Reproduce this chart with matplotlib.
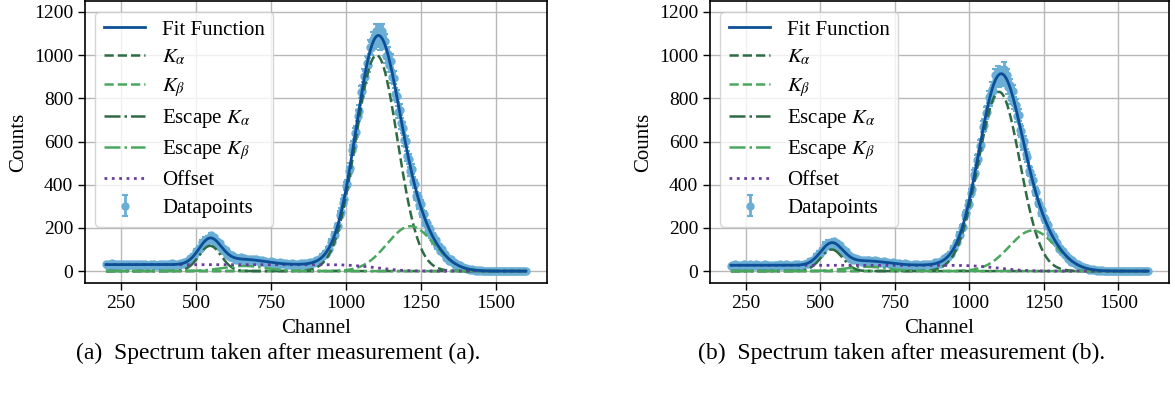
import numpy as np
import matplotlib.pyplot as plt
from math import erfc

plt.rcParams['font.family'] = ['Liberation Serif', 'DejaVu Serif']
plt.rcParams['mathtext.fontset'] = 'stix'

# channels of the datapoints (every 5th channel)
channel = np.arange(200, 1601, 5)

counts_a = [
    # 200-425
    34, 27, 32, 25, 36, 29, 33, 25, 31, 26, 35, 28, 33, 26, 31, 24, 34, 28, 32, 27,
    33, 28, 31, 24, 35, 30, 32, 26, 30, 27, 34, 29, 32, 25, 30, 25, 35, 29, 31, 26,
    34, 27, 32, 25, 36, 29,
    # 430-1495
    34, 26, 33, 29, 39, 33, 42, 35, 45, 41,
    59, 57, 70, 71, 91, 88, 106, 104, 134, 129,
    146, 134, 152, 145, 165, 147, 156, 134, 139, 117,
    129, 109, 108, 91, 96, 76, 79, 64, 75, 62,
    65, 52, 59, 52, 63, 53, 60, 49, 56, 46,
    58, 50, 55, 48, 56, 45, 51, 41, 53, 44,
    48, 37, 43, 37, 46, 37, 42, 33, 38, 30,
    40, 33, 37, 31, 38, 29, 34, 27, 37, 30,
    34, 26, 32, 28, 37, 30, 36, 29, 36, 29,
    41, 36, 43, 39, 51, 45, 55, 51, 72, 69,
    83, 79, 100, 104, 135, 136, 166, 167, 202, 207,
    261, 274, 317, 334, 394, 404, 462, 477, 562, 578,
    639, 646, 720, 742, 830, 835, 904, 899, 965, 955,
    1040, 1031, 1073, 1059, 1112, 1071, 1101, 1058, 1111, 1059,
    1065, 995, 1006, 953, 972, 900, 895, 819, 811, 737,
    748, 684, 665, 605, 601, 533, 521, 462, 472, 417,
    403, 348, 344, 305, 311, 268, 264, 224, 221, 187,
    196, 168, 163, 139, 142, 115, 114, 92, 101, 82,
    79, 59, 62, 49, 55, 40, 42, 29, 31, 20,
    26, 18, 18, 13, 15, 9, 10, 5, 9, 5,
    6, 2, 3, 2, 3, 1, 2, 0, 1, 0,
    1, 0, 1, 0,
    # 1500-1600
    1, 0, 0, 1, 0, 2, 0, 0, 1, 0, 1, 0, 0, 1, 0, 0, 1, 0, 0, 1, 0]

counts_b = [
    # 200-425
    22, 28, 23, 32, 25, 30, 23, 28, 21, 31, 25, 29, 24, 31, 24, 29, 22, 32, 26, 30,
    21, 27, 24, 31, 26, 30, 22, 28, 22, 30, 26, 28, 25, 32, 23, 28, 23, 33, 25, 29,
    22, 28, 23, 32, 25, 31,
    # 430-1495
    24, 30, 24, 35, 31, 38, 35, 47, 42, 53,
    50, 72, 70, 84, 78, 97, 97, 122, 115, 131,
    120, 134, 120, 139, 125, 129, 113, 121, 99, 101,
    82, 93, 75, 76, 58, 63, 53, 62, 50, 56,
    45, 51, 41, 53, 46, 50, 44, 53, 42, 48,
    40, 52, 43, 47, 37, 43, 37, 47, 37, 43,
    33, 39, 30, 40, 33, 37, 31, 37, 29, 33,
    26, 36, 29, 32, 24, 30, 25, 33, 26, 31,
    24, 29, 23, 32, 27, 31, 27, 35, 28, 34,
    28, 40, 35, 42, 35, 45, 43, 59, 54, 68,
    64, 80, 78, 106, 108, 129, 134, 167, 168, 201,
    206, 259, 267, 307, 311, 362, 380, 447, 456, 515,
    521, 581, 586, 668, 677, 731, 739, 805, 794, 845,
    832, 907, 886, 918, 880, 917, 892, 937, 889, 907,
    851, 862, 803, 832, 778, 771, 717, 722, 655, 647,
    586, 601, 541, 528, 465, 461, 417, 423, 371, 366,
    317, 313, 270, 281, 246, 240, 209, 213, 178, 176,
    148, 159, 133, 129, 103, 105, 88, 94, 74, 76,
    57, 59, 43, 50, 39, 38, 29, 32, 22, 23,
    15, 20, 13, 14, 7, 9, 6, 9, 4, 6,
    2, 4, 1, 3, 1, 2, 1, 2, 0, 1,
    0, 1, 0, 1,
    # 1500-1600
    0, 1, 0, 0, 1, 0, 0, 2, 0, 1, 0, 0, 1, 0, 1, 0, 0, 1, 0, 0, 1]

# fitted peaks: (amplitude, centre, width) per component
ka_a, kb_a = (1000, 1102, 70), (208, 1215, 78)
esc_ka_a, esc_kb_a = (117, 547, 37), (24, 660, 70)
offset_a = 30

ka_b, kb_b = (830, 1100, 70), (188, 1212, 78)
esc_ka_b, esc_kb_b = (100, 538, 37), (20, 655, 70)
offset_b = 27

captions = ['(a)  Spectrum taken after measurement (a).',
            '(b)  Spectrum taken after measurement (b).']

x = np.arange(200, 1601)


def gauss(p):
    a, mu, s = p
    return a * np.exp(-(x - mu) ** 2 / (2 * s ** 2))


def step(c, p):
    # background that steps down under the K-alpha peak
    _, mu, s = p
    return c * 0.5 * np.array([erfc((xi - mu) / (s * np.sqrt(2))) for xi in x])


c_fit = '#0d4f97'
c_data = '#6aaed6'
c_dark = '#2e6b44'
c_light = '#4aa85e'
c_off = '#6a3d9a'

fig = plt.figure(figsize=(11.75, 3.98), dpi=100)
axes = [fig.add_axes([0.0723, 0.289, 0.3932, 0.708]),
        fig.add_axes([0.6043, 0.289, 0.3906, 0.708])]

sets = [(counts_a, ka_a, kb_a, esc_ka_a, esc_kb_a, offset_a),
        (counts_b, ka_b, kb_b, esc_ka_b, esc_kb_b, offset_b)]

for ax, (counts, ka, kb, eka, ekb, off) in zip(axes, sets):
    counts = np.array(counts, dtype=float)
    g_ka, g_kb, g_eka, g_ekb = gauss(ka), gauss(kb), gauss(eka), gauss(ekb)
    bg = step(off, ka)
    fit = g_ka + g_kb + g_eka + g_ekb + bg

    ax.errorbar(channel, counts, yerr=np.sqrt(np.maximum(counts, 1)), fmt='o',
                ms=5, color=c_data, ecolor=c_data, elinewidth=2, capsize=2.5,
                capthick=1.5, label='Datapoints', zorder=2)
    ax.plot(x, fit, color=c_fit, lw=2, label='Fit Function', zorder=5)
    ax.plot(x, g_ka, '--', color=c_dark, lw=1.8, label=r'$K_\alpha$', zorder=4)
    ax.plot(x, g_kb, '--', color=c_light, lw=1.8, label=r'$K_\beta$', zorder=4)
    ax.plot(x, g_eka, '-.', color=c_dark, lw=1.8, label=r'Escape $K_\alpha$', zorder=4)
    ax.plot(x, g_ekb, '-.', color=c_light, lw=1.8, label=r'Escape $K_\beta$', zorder=4)
    ax.plot(x, bg, ':', color=c_off, lw=2, label='Offset', zorder=4)

    ax.set_xlim(130, 1670)
    ax.set_ylim(-55, 1250)
    ax.set_xticks([250, 500, 750, 1000, 1250, 1500])
    ax.set_yticks([0, 200, 400, 600, 800, 1000, 1200])
    ax.tick_params(labelsize=14, length=5, width=1)
    ax.grid(True, color='#b8b8b8', lw=1)
    ax.set_axisbelow(True)
    for sp in ax.spines.values():
        sp.set_linewidth(1.2)
    ax.set_xlabel('Channel', fontsize=15, labelpad=5)
    ax.set_ylabel('Counts', fontsize=15, labelpad=4)
    ax.legend(loc='upper left', fontsize=15, labelspacing=0.4, handletextpad=0.8,
              borderpad=0.4, borderaxespad=0.5)

fig.text(0.2366, 0.113, captions[0], ha='center', va='center', fontsize=17)
fig.text(0.767, 0.113, captions[1], ha='center', va='center', fontsize=17)

fig.savefig('out.png', dpi=100)
